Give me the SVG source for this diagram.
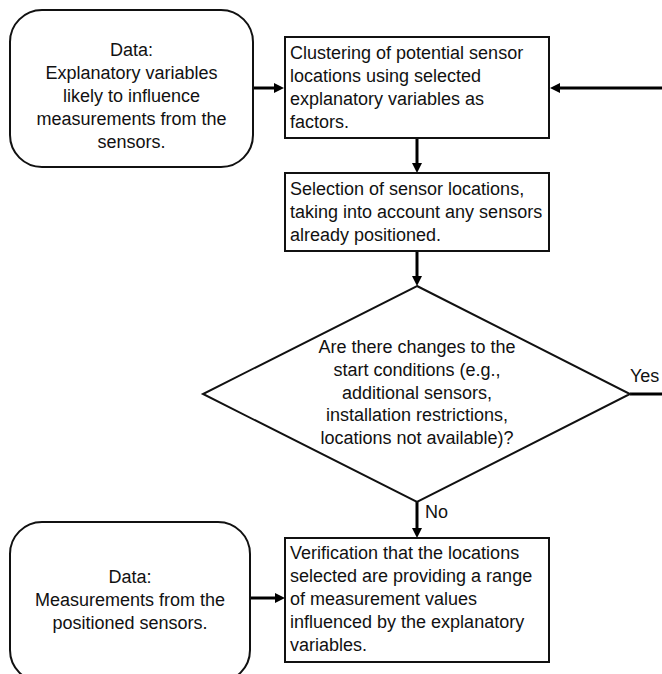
<svg xmlns="http://www.w3.org/2000/svg" width="662" height="674" viewBox="0 0 662 674">
<style>
.node { fill: #ffffff; stroke: #111111; stroke-width: 2; }
.t { font-family: "Liberation Sans", Arial, sans-serif; font-size: 18px; fill: #111111; }
.c { text-anchor: middle; }
.conn { stroke: #000000; stroke-width: 3; fill: none; }
</style>
<defs>
<marker id="arr" markerUnits="userSpaceOnUse" markerWidth="11" markerHeight="11" refX="4" refY="5" orient="auto">
<path d="M0,0 L10,5 L0,10 z" fill="#000000"/>
</marker>
</defs>
<rect width="662" height="674" fill="#ffffff"/>
<g id="connectors">
<line class="conn" x1="253" y1="88" x2="278" y2="88" marker-end="url(#arr)"/>
<line class="conn" x1="662" y1="88" x2="556" y2="88" marker-end="url(#arr)"/>
<line class="conn" x1="417" y1="138" x2="417" y2="167" marker-end="url(#arr)"/>
<line class="conn" x1="417" y1="251" x2="417" y2="280" marker-end="url(#arr)"/>
<line class="conn" x1="417" y1="502" x2="417" y2="532" marker-end="url(#arr)"/>
<line class="conn" x1="250" y1="598" x2="279" y2="598" marker-end="url(#arr)"/>
<line class="conn" x1="630" y1="394" x2="662" y2="394"/>
<text class="t" x="630" y="382">Yes</text>
<text class="t" x="425" y="518">No</text>
</g>
<g id="data-explanatory">
<rect class="node" x="10" y="10" width="243" height="157" rx="32" ry="32"/>
<text class="t c" x="131.5" y="56">Data:</text>
<text class="t c" x="131.5" y="79">Explanatory variables</text>
<text class="t c" x="131.5" y="102">likely to influence</text>
<text class="t c" x="131.5" y="125">measurements from the</text>
<text class="t c" x="131.5" y="148">sensors.</text>
</g>
<g id="clustering">
<rect class="node" x="285" y="37" width="264" height="101"/>
<text class="t" x="290" y="59">Clustering of potential sensor</text>
<text class="t" x="290" y="82">locations using selected</text>
<text class="t" x="290" y="105">explanatory variables as</text>
<text class="t" x="290" y="128">factors.</text>
</g>
<g id="selection">
<rect class="node" x="285" y="173" width="264" height="78"/>
<text class="t" x="290" y="195">Selection of sensor locations,</text>
<text class="t" x="290" y="218">taking into account any sensors</text>
<text class="t" x="290" y="241">already positioned.</text>
</g>
<g id="decision">
<polygon class="node" points="417,286 630,394 417,502 203,394"/>
<text class="t c" x="417" y="353">Are there changes to the</text>
<text class="t c" x="417" y="376">start conditions (e.g.,</text>
<text class="t c" x="417" y="399">additional sensors,</text>
<text class="t c" x="417" y="421">installation restrictions,</text>
<text class="t c" x="417" y="444">locations not available)?</text>
</g>
<g id="data-measurements">
<rect class="node" x="10" y="522" width="240" height="160" rx="32" ry="32"/>
<text class="t c" x="130" y="583">Data:</text>
<text class="t c" x="130" y="606">Measurements from the</text>
<text class="t c" x="130" y="629">positioned sensors.</text>
</g>
<g id="verification">
<rect class="node" x="285" y="538" width="264" height="124"/>
<text class="t" x="290" y="559">Verification that the locations</text>
<text class="t" x="290" y="582">selected are providing a range</text>
<text class="t" x="290" y="605">of measurement values</text>
<text class="t" x="290" y="628">influenced by the explanatory</text>
<text class="t" x="290" y="651">variables.</text>
</g>
</svg>
